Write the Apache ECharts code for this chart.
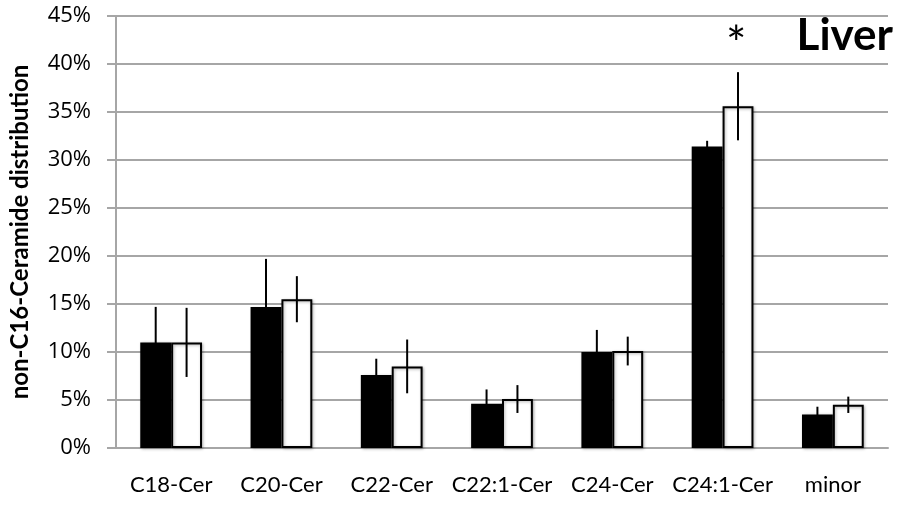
<!DOCTYPE html>
<html>
<head>
<meta charset="utf-8">
<script src="https://cdn.jsdelivr.net/npm/echarts@6/dist/echarts.min.js"></script>
<style>
html,body{margin:0;padding:0;background:#fff;}
#chart{width:899px;height:505px;}
</style>
</head>
<body>
<div id="chart"></div>
<script>
const categories = ['C18-Cer','C20-Cer','C22-Cer','C22:1-Cer','C24-Cer','C24:1-Cer','minor'];
const blackValues = [11.0, 14.7, 7.6, 4.6, 10.0, 31.4, 3.5];
const blackErrors = [3.7, 5.0, 1.7, 1.5, 2.3, 0.6, 0.8];
const whiteValues = [11.0, 15.5, 8.5, 5.1, 10.1, 35.6, 4.5];
const whiteErrors = [3.6, 2.4, 2.8, 1.45, 1.5, 3.55, 0.85];
const yTicks = {min: 0, max: 45, interval: 5};
const yTitle = 'non-C16-Ceramide distribution';
const panelLabel = 'Liver';
const sigMark = '*';

const gridColor = '#a6a6a6';
const barRatio = 0.28;

function errData(vals, errs){
  return vals.map((v,i)=>[i, v, errs[i]]);
}
function errSeries(vals, errs, side){
  return {
    type:'custom',
    z:10,
    data: errData(vals, errs),
    renderItem: function(params, api){
      const band = api.size([1,0])[0];
      const off = side * band * barRatio / 2;
      const hi = api.coord([api.value(0), api.value(1) + api.value(2)]);
      const lo = api.coord([api.value(0), api.value(1) - api.value(2)]);
      return {
        type:'line',
        shape:{x1: hi[0] + off, y1: hi[1], x2: lo[0] + off, y2: lo[1]},
        style:{stroke:'#000', lineWidth:2}
      };
    }
  };
}

const chart = echarts.init(document.getElementById('chart'));
chart.setOption({
  animation:false,
  grid:{left:116, right:11, top:16, bottom:57},
  xAxis:{
    type:'category',
    data:categories,
    axisLine:{lineStyle:{color:gridColor, width:2}},
    axisTick:{length:8, lineStyle:{color:gridColor, width:2}},
    axisLabel:{interval:0, color:'#000', fontFamily:'Lato', fontSize:22, margin:26}
  },
  yAxis:{
    type:'value',
    min:yTicks.min, max:yTicks.max, interval:yTicks.interval,
    axisLine:{show:true, lineStyle:{color:gridColor, width:2}},
    axisTick:{show:true, length:9, lineStyle:{color:gridColor, width:2}},
    splitLine:{lineStyle:{color:gridColor, width:2}},
    axisLabel:{formatter:'{value}%', color:'#000', fontFamily:'Open Sans', fontSize:22, margin:25},
    name:yTitle,
    nameLocation:'middle',
    nameGap:84,
    nameTextStyle:{fontFamily:'Lato', fontWeight:'bold', fontSize:24, color:'#000'}
  },
  graphic:[
    {type:'text', left:726, top:22, style:{text:sigMark, font:'normal 48px Lato', fill:'#000'}},
    {type:'text', right:6, top:14, style:{text:panelLabel, font:'bold 44px Lato', fill:'#000'}}
  ],
  series:[
    {type:'bar', data:blackValues, barWidth:(barRatio*100)+'%', barGap:'0%',
     itemStyle:{color:'#000', shadowBlur:3, shadowColor:'rgba(0,0,0,0.3)', shadowOffsetX:1, shadowOffsetY:1}},
    {type:'bar', data:whiteValues, barWidth:(barRatio*100)+'%', barGap:'0%',
     itemStyle:{color:'#fff', borderColor:'#000', borderWidth:2, shadowBlur:3, shadowColor:'rgba(0,0,0,0.3)', shadowOffsetX:1, shadowOffsetY:1}},
    errSeries(blackValues, blackErrors, -1),
    errSeries(whiteValues, whiteErrors, 1)
  ]
});
</script>
</body>
</html>
